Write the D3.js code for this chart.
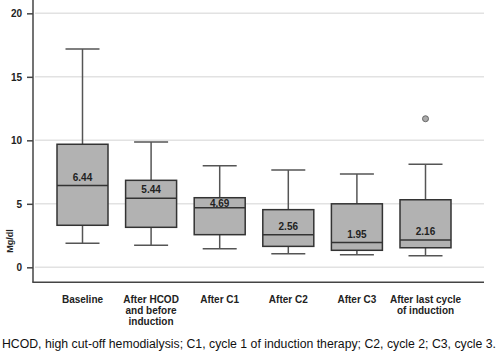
<!DOCTYPE html>
<html><head><meta charset="utf-8">
<script src="https://cdn.jsdelivr.net/npm/d3@7"></script>
<style>body{margin:0;background:#fff}svg{display:block}</style>
</head><body>
<svg id="c" width="500" height="353"></svg>
<script>
const categories = ["Baseline", "After HCOD|and before|induction", "After C1", "After C2", "After C3", "After last cycle|of induction"];
const whiskerLow = [1.89, 1.73, 1.46, 1.07, 0.99, 0.91];
const q1 = [3.31, 3.15, 2.57, 1.65, 1.34, 1.54];
const median = [6.44, 5.44, 4.69, 2.56, 1.95, 2.16];
const q3 = [9.69, 6.85, 5.48, 4.54, 5.0, 5.32];
const whiskerHigh = [17.19, 9.87, 8.0, 7.66, 7.35, 8.11];
const outliers = [[], [], [], [], [], [11.7]];
const medianLabels = ["6.44", "5.44", "4.69", "2.56", "1.95", "2.16"];
const yTicks = [0, 5, 10, 15, 20];
const yLabel = "Mg/dl";
const caption = "HCOD, high cut-off hemodialysis; C1, cycle 1 of induction therapy; C2, cycle 2; C3, cycle 3.";

const svg = d3.select("#c");
const y = d3.scaleLinear().domain([-1.18, 21.05]).range([282.3, 0]);
const x = d3.scalePoint().domain(categories).range([82.5, 425.5]);
const boxW = 51, capW = 34;
const font = "'Liberation Sans', Arial, sans-serif";

// gridlines
svg.append("g").selectAll("line").data(yTicks).join("line")
  .attr("x1", 35).attr("x2", 484)
  .attr("y1", d => y(d)).attr("y2", d => y(d))
  .attr("stroke", "#e2e2e2").attr("stroke-width", 1.5);

// y axis
const yAxis = svg.append("g").attr("transform", "translate(33,0)")
  .call(d3.axisLeft(y).tickValues(yTicks).tickSize(6).tickPadding(5));
yAxis.select(".domain").remove();
yAxis.selectAll(".tick line").attr("stroke", "#444").attr("stroke-width", 1.5);
yAxis.selectAll(".tick text").attr("fill", "#222").style("font", `bold 10px ${font}`);

// axis lines
svg.append("line").attr("x1", 33).attr("x2", 33).attr("y1", 0).attr("y2", 282.3)
  .attr("stroke", "#444").attr("stroke-width", 1.5);
svg.append("line").attr("x1", 32.3).attr("x2", 484).attr("y1", 282.3).attr("y2", 282.3)
  .attr("stroke", "#444").attr("stroke-width", 1.5);

// y label
svg.append("text").attr("transform", "translate(13,241) rotate(-90)")
  .attr("text-anchor", "middle").attr("fill", "#222")
  .style("font", `bold 9px ${font}`).text(yLabel);

const g = svg.append("g");
categories.forEach((c, i) => {
  const cx = x(c);
  const gg = g.append("g");
  // whiskers
  gg.append("line").attr("x1", cx).attr("x2", cx).attr("y1", y(whiskerHigh[i])).attr("y2", y(q3[i]))
    .attr("stroke", "#555").attr("stroke-width", 1.5);
  gg.append("line").attr("x1", cx).attr("x2", cx).attr("y1", y(q1[i])).attr("y2", y(whiskerLow[i]))
    .attr("stroke", "#555").attr("stroke-width", 1.5);
  [whiskerHigh[i], whiskerLow[i]].forEach(v => {
    gg.append("line").attr("x1", cx - capW / 2).attr("x2", cx + capW / 2)
      .attr("y1", y(v)).attr("y2", y(v)).attr("stroke", "#555").attr("stroke-width", 1.5);
  });
  // box
  gg.append("rect").attr("x", cx - boxW / 2).attr("width", boxW)
    .attr("y", y(q3[i])).attr("height", y(q1[i]) - y(q3[i]))
    .attr("fill", "#b2b2b2").attr("stroke", "#333").attr("stroke-width", 1.5);
  gg.append("line").attr("x1", cx - boxW / 2).attr("x2", cx + boxW / 2)
    .attr("y1", y(median[i])).attr("y2", y(median[i])).attr("stroke", "#333").attr("stroke-width", 1.5);
  // median label
  const ly = Math.max(y(median[i]) - 8.5, y(q3[i]) + 6);
  gg.append("text").attr("x", cx).attr("y", ly).attr("dy", "0.36em")
    .attr("text-anchor", "middle").attr("fill", "#222")
    .style("font", `bold 10px ${font}`).text(medianLabels[i]);
  // outliers
  outliers[i].forEach(v => {
    gg.append("circle").attr("cx", cx).attr("cy", y(v)).attr("r", 3)
      .attr("fill", "#aaa").attr("stroke", "#666").attr("stroke-width", 1);
  });
  // category label
  const t = svg.append("text").attr("text-anchor", "middle").attr("fill", "#222")
    .style("font", `bold 10px ${font}`);
  c.split("|").forEach((line, k) => {
    t.append("tspan").attr("x", cx).attr("y", 303 + k * 11).text(line);
  });
});

// caption
svg.append("text").attr("x", 2).attr("y", 348).attr("fill", "#111")
  .attr("textLength", 494).attr("lengthAdjust", "spacingAndGlyphs")
  .style("font", `12px ${font}`).text(caption);
</script>
</body></html>
